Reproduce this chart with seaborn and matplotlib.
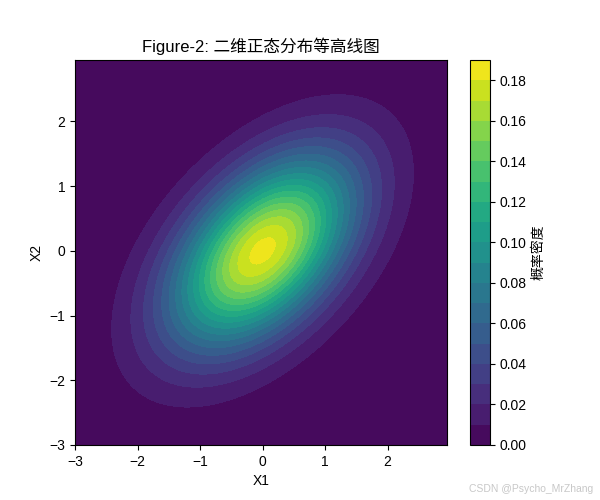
import numpy as np
import matplotlib
matplotlib.use("Agg")
import matplotlib.pyplot as plt
import seaborn as sns

# Distribution parameters
mean = [0.0, 0.0]
cov = [[1.0, 0.5], [0.5, 1.0]]
levels = [0.00, 0.01, 0.02, 0.03, 0.04, 0.05, 0.06, 0.07, 0.08, 0.09,
          0.10, 0.11, 0.12, 0.13, 0.14, 0.15, 0.16, 0.17, 0.18, 0.19]
cbar_ticks = [0.00, 0.02, 0.04, 0.06, 0.08, 0.10, 0.12, 0.14, 0.16, 0.18]
xticks = [-3, -2, -1, 0, 1, 2]
yticks = [-3, -2, -1, 0, 1, 2]

plt.rcParams['font.family'] = ['Liberation Sans', 'Noto Sans CJK SC', 'DejaVu Sans']
plt.rcParams['axes.unicode_minus'] = True

x = np.arange(-3, 3, 0.05)
y = np.arange(-3, 3, 0.05)
X, Y = np.meshgrid(x, y)
pos = np.dstack((X, Y))
m = np.array(mean)
S = np.array(cov)
Sinv = np.linalg.inv(S)
d = pos - m
q = np.einsum('...i,ij,...j->...', d, Sinv, d)
Z = np.exp(-0.5 * q) / (2 * np.pi * np.sqrt(np.linalg.det(S)))

cmap = sns.color_palette("viridis", as_cmap=True)

fig, ax = plt.subplots(figsize=(6, 5), dpi=100)
cf = ax.contourf(X, Y, Z, levels=levels, cmap=cmap)
cb = fig.colorbar(cf, ax=ax)
cb.set_ticks(cbar_ticks)
cb.set_label('概率密度')
ax.set_xticks(xticks)
ax.set_yticks(yticks)
ax.set_title('Figure-2: 二维正态分布等高线图')
ax.set_xlabel('X1')
ax.set_ylabel('X2')
fig.text(0.988, 0.012, 'CSDN @Psycho_MrZhang', ha='right', va='bottom',
         fontsize=7.5, color='#c8c8c8')
fig.savefig('out.png', dpi=100)
